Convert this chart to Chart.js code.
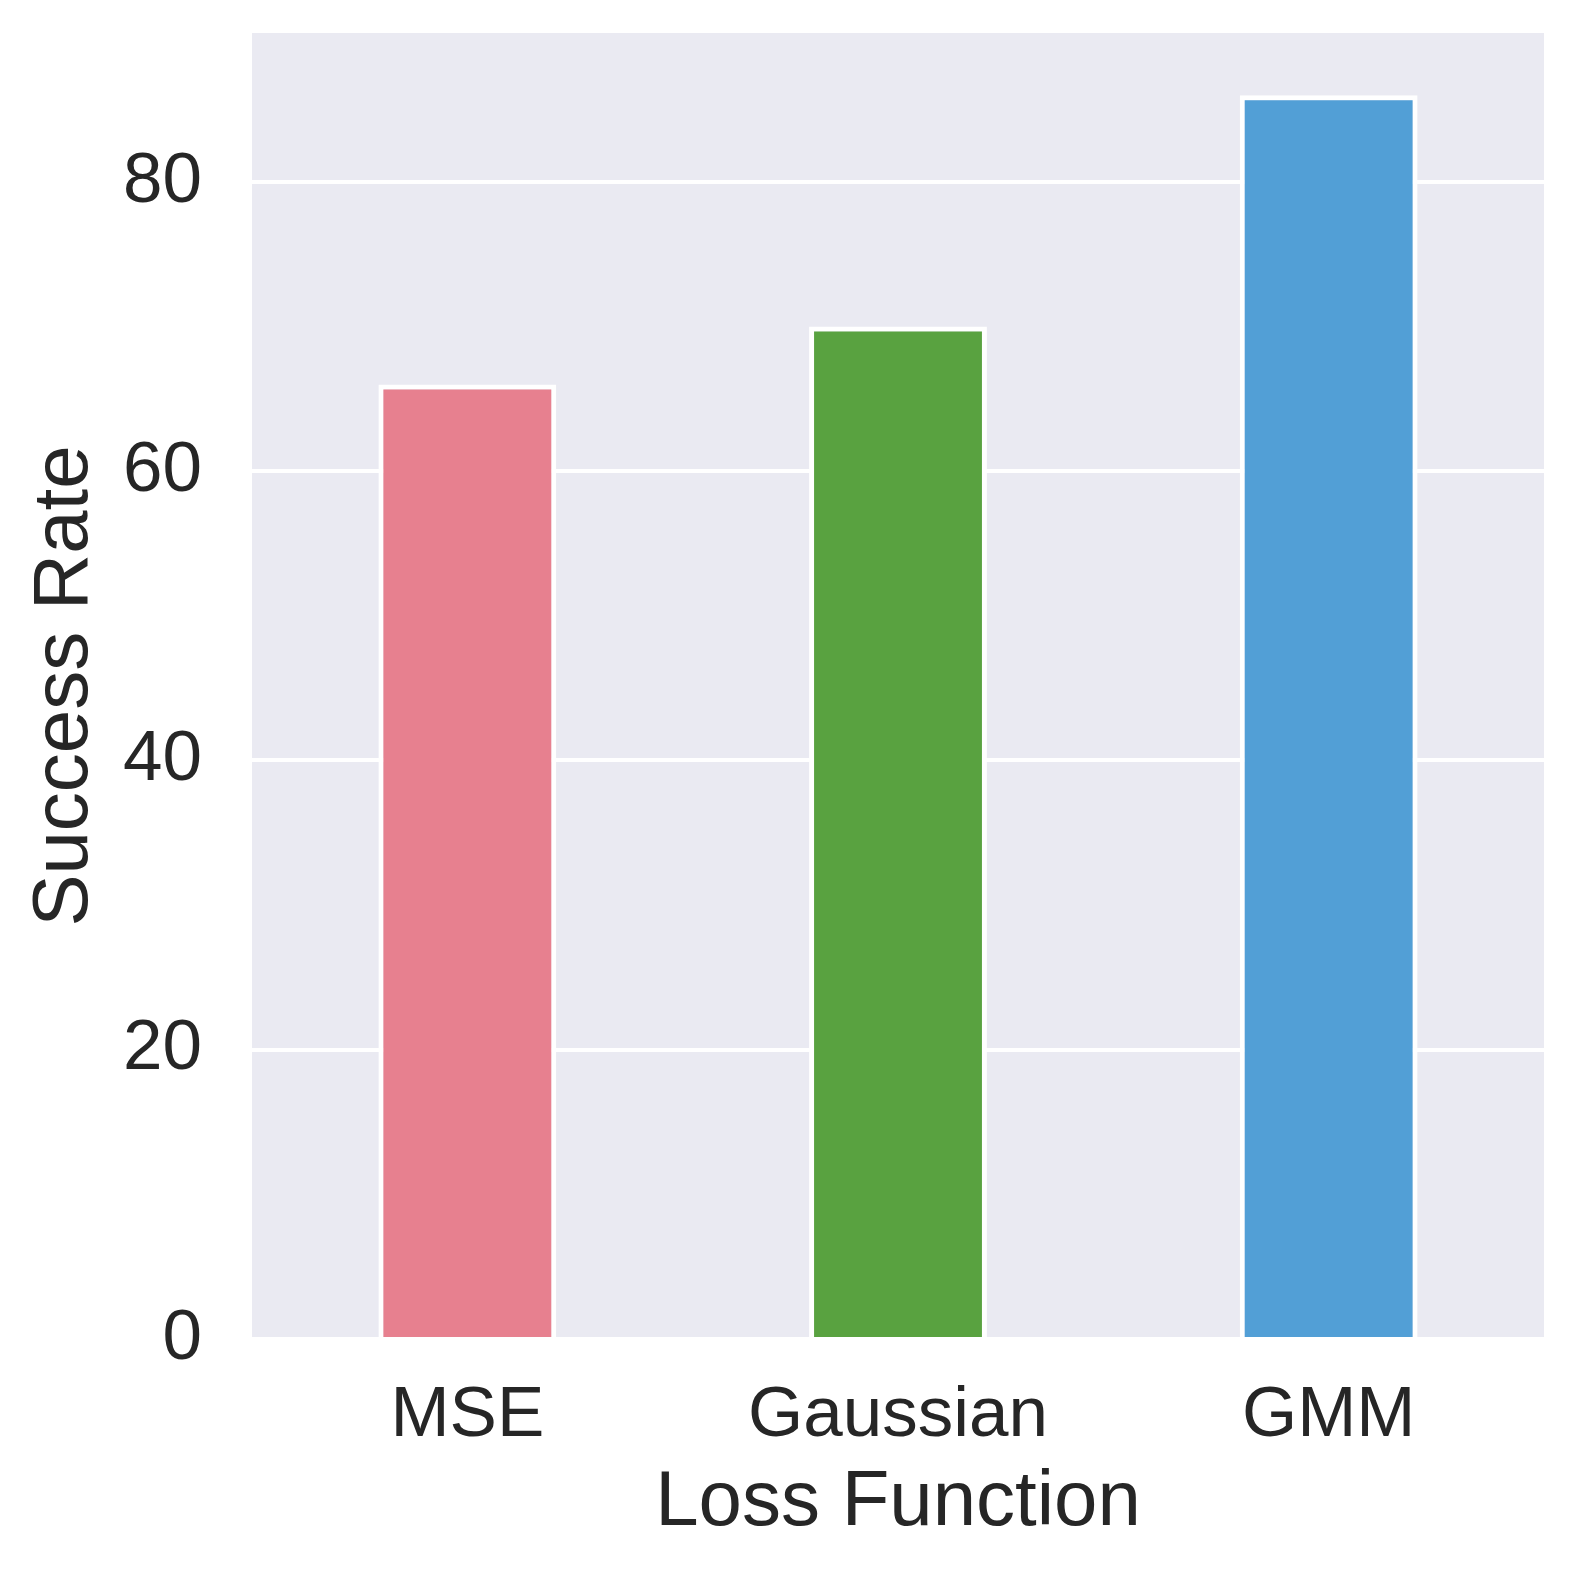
<!DOCTYPE html>
<html>
<head>
<meta charset="utf-8">
<script src="https://cdn.jsdelivr.net/npm/chart.js@4/dist/chart.umd.min.js"></script>
<style>
    html, body { margin: 0; padding: 0; background: #ffffff; }
    #wrap { width: 1578px; height: 1575px; }
</style>
</head>
<body>
<div id="wrap"><canvas id="chart" width="1578" height="1575"></canvas></div>
<script>
const categories = [`MSE`, `Gaussian`, `GMM`];
const successRates = [66, 70, 86];
const barColors = [`#e7808f`, `#59a240`, `#529fd6`];
const yTicks = [0, 20, 40, 60, 80];
const yMax = 90.3;

const fontFamily = `"Liberation Sans", Arial, sans-serif`;
const textColor = `#262626`;

// seaborn darkgrid background behind the plot area
const plotBackground = {
    id: `plotBackground`,
    beforeDraw: function (chart) {
        const { ctx, chartArea } = chart;
        ctx.save();
        ctx.fillStyle = `#eaeaf2`;
        ctx.fillRect(chartArea.left, chartArea.top, chartArea.right - chartArea.left, chartArea.bottom - chartArea.top);
        ctx.restore();
    },
};

// no extra room for overhanging tick labels, the plot area is fixed
const noOverhang = function (scale) {
    scale.paddingTop = 0;
    scale.paddingBottom = 0;
    scale.paddingLeft = 0;
    scale.paddingRight = 0;
};

const chart = new Chart(document.getElementById(`chart`), {
    type: `bar`,
    data: {
        labels: categories,
        datasets: [
            {
                data: successRates,
                backgroundColor: barColors,
                borderColor: `#ffffff`,
                borderWidth: 5,
                borderSkipped: `start`, // bottom edge sits on the axis
                barPercentage: 0.413,
                categoryPercentage: 1,
            },
        ],
    },
    options: {
        responsive: false,
        animation: false,
        layout: {
            padding: { top: 33, right: 34, left: 0, bottom: 0 },
        },
        plugins: {
            legend: { display: false },
            tooltip: { enabled: false },
        },
        scales: {
            x: {
                grid: { display: false, drawTicks: false },
                border: { display: false },
                ticks: {
                    color: textColor,
                    padding: 42,
                    font: { family: fontFamily, size: 71, lineHeight: 1 },
                },
                title: {
                    display: true,
                    text: `Loss Function`,
                    color: textColor,
                    padding: { top: 0, bottom: 33 },
                    font: { family: fontFamily, size: 78, lineHeight: 1 },
                },
                afterFit: function (scale) {
                    noOverhang(scale);
                    scale.height = 1575 - 1339;
                },
            },
            y: {
                min: 0,
                max: yMax,
                grid: { color: `#ffffff`, lineWidth: 4, drawTicks: false },
                border: { display: false },
                afterBuildTicks: function (scale) {
                    scale.ticks = yTicks.map(value => ({ value }));
                },
                ticks: {
                    color: textColor,
                    padding: 50,
                    font: { family: fontFamily, size: 71, lineHeight: 1 },
                },
                title: {
                    display: true,
                    text: `Success Rate`,
                    color: textColor,
                    padding: { top: 26, bottom: 0 },
                    font: { family: fontFamily, size: 78, lineHeight: 1 },
                },
                afterFit: function (scale) {
                    noOverhang(scale);
                    scale.width = 252;
                },
            },
        },
    },
    plugins: [plotBackground],
});
</script>
</body>
</html>
